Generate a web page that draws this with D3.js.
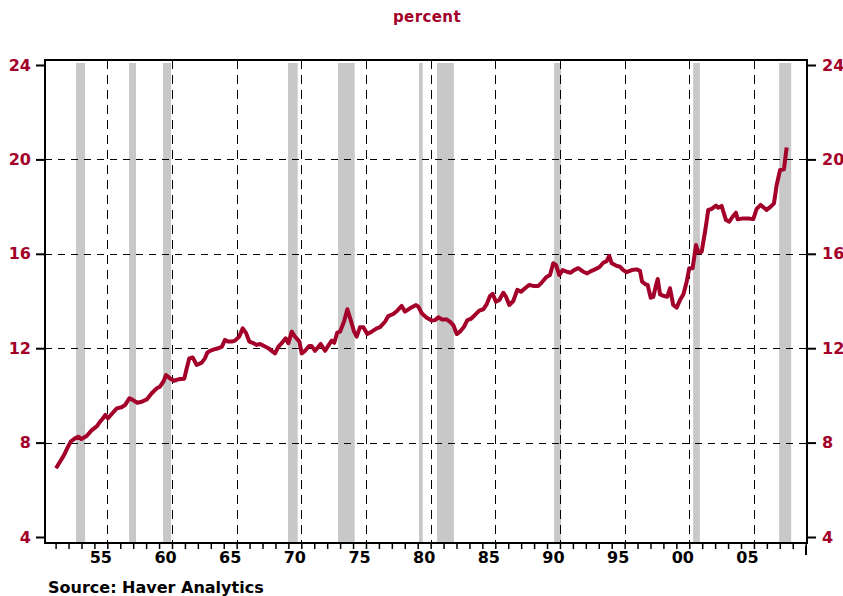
<!DOCTYPE html>
<html>
<head>
<meta charset="utf-8">
<script src="https://cdn.jsdelivr.net/npm/d3@7"></script>
<style>
  body { margin: 0; background: #fff; }
  svg text { font-family: 'DejaVu Sans', Verdana, sans-serif; font-weight: bold; }
</style>
</head>
<body>
<div id="divChart"></div>
<script>
// observation dates (decimal years) and values in percent
var obsYear = [
  1952.03, 1952.34, 1952.65, 1952.9, 1953.17, 1953.5, 1953.76, 1954.0, 1954.4, 1954.8,
  1955.2, 1955.44, 1955.62, 1955.85, 1956.05, 1956.34, 1956.73, 1957.1, 1957.37, 1957.7,
  1957.96, 1958.32, 1958.66, 1959.05, 1959.43, 1959.82, 1960.07, 1960.33, 1960.54, 1960.85,
  1961.16, 1961.49, 1961.95, 1962.14, 1962.34, 1962.6, 1962.91, 1963.3, 1963.55, 1963.73,
  1963.94, 1964.25, 1964.58, 1964.85, 1965.1, 1965.36, 1965.62, 1965.87, 1966.2, 1966.47,
  1966.72, 1966.98, 1967.24, 1967.55, 1967.81, 1968.12, 1968.45, 1968.71, 1968.97, 1969.22,
  1969.48, 1969.79, 1970.0, 1970.26, 1970.51, 1970.85, 1971.03, 1971.29, 1971.6, 1971.8,
  1972.06, 1972.32, 1972.5, 1972.83, 1973.09, 1973.35, 1973.55, 1973.78, 1973.99, 1974.3,
  1974.56, 1974.82, 1975.08, 1975.28, 1975.54, 1975.8, 1976.1, 1976.44, 1976.83, 1977.09,
  1977.47, 1977.73, 1978.11, 1978.42, 1978.76, 1979.02, 1979.4, 1979.87, 1980.05, 1980.31,
  1980.7, 1981.08, 1981.34, 1981.6, 1981.86, 1982.24, 1982.5, 1982.75, 1983.02, 1983.27,
  1983.58, 1983.84, 1984.1, 1984.43, 1984.76, 1985.07, 1985.34, 1985.59, 1985.8, 1986.05,
  1986.31, 1986.62, 1986.83, 1987.08, 1987.39, 1987.7, 1987.99, 1988.3, 1988.63, 1988.94,
  1989.33, 1989.59, 1989.92, 1990.23, 1990.48, 1990.69, 1990.95, 1991.21, 1991.52, 1991.83,
  1992.09, 1992.42, 1992.8, 1993.11, 1993.45, 1993.71, 1994.04, 1994.35, 1994.61, 1994.81,
  1995.0, 1995.33, 1995.64, 1995.9, 1996.16, 1996.55, 1996.93, 1997.19, 1997.35, 1997.6,
  1997.78, 1998.02, 1998.22, 1998.4, 1998.56, 1998.74, 1999.05, 1999.3, 1999.51, 1999.76,
  2000.03, 2000.28, 2000.54, 2000.8, 2001.0, 2001.26, 2001.52, 2001.7, 2001.96, 2002.22,
  2002.47, 2002.73, 2003.07, 2003.24, 2003.5, 2003.84, 2004.09, 2004.35, 2004.61, 2004.74,
  2005.18, 2005.56, 2005.95, 2006.21, 2006.52, 2006.78, 2006.98, 2007.3, 2007.55, 2007.76,
  2008.02, 2008.32, 2008.53
]
var obsValue = [
  6.91, 7.19, 7.47, 7.76, 8.04, 8.18, 8.25, 8.15, 8.28, 8.53,
  8.7, 8.89, 9.0, 9.17, 9.03, 9.21, 9.45, 9.5, 9.59, 9.88,
  9.81, 9.69, 9.73, 9.83, 10.09, 10.3, 10.37, 10.58, 10.86, 10.72,
  10.62, 10.68, 10.71, 11.15, 11.57, 11.61, 11.29, 11.39, 11.57, 11.81,
  11.89, 11.95, 12.0, 12.06, 12.35, 12.28, 12.28, 12.32, 12.49, 12.84,
  12.65, 12.28, 12.23, 12.14, 12.18, 12.09, 12.0, 11.89, 11.78, 12.06,
  12.21, 12.42, 12.21, 12.7, 12.49, 12.28, 11.78, 11.89, 12.09, 12.09,
  11.89, 12.06, 12.18, 11.89, 12.11, 12.32, 12.23, 12.66, 12.7, 13.12,
  13.65, 13.19, 12.7, 12.49, 12.89, 12.89, 12.6, 12.7, 12.84, 12.89,
  13.12, 13.36, 13.45, 13.59, 13.79, 13.55, 13.69, 13.83, 13.76, 13.48,
  13.29, 13.17, 13.19, 13.31, 13.22, 13.22, 13.12, 12.98, 12.6, 12.7,
  12.91, 13.19, 13.24, 13.41, 13.59, 13.65, 13.87, 14.21, 14.3, 13.97,
  14.04, 14.35, 14.18, 13.83, 14.0, 14.47, 14.39, 14.54, 14.68, 14.64,
  14.64, 14.78, 15.0, 15.1, 15.6, 15.53, 15.1, 15.31, 15.24, 15.2,
  15.31, 15.39, 15.24, 15.17, 15.28, 15.34, 15.43, 15.62, 15.69, 15.91,
  15.6, 15.5, 15.45, 15.31, 15.22, 15.31, 15.34, 15.28, 14.82, 14.71,
  14.68, 14.14, 14.18, 14.61, 14.93, 14.28, 14.21, 14.18, 14.54, 13.83,
  13.72, 14.04, 14.28, 14.82, 15.39, 15.39, 16.37, 16.06, 16.09, 16.94,
  17.86, 17.9, 18.04, 17.95, 18.03, 17.43, 17.36, 17.57, 17.74, 17.46,
  17.5, 17.5, 17.47, 17.9, 18.07, 17.95, 17.86, 18.0, 18.14, 18.92,
  19.55, 19.58, 20.5
]

// recession periods (decimal years)
var recessionStart = [1953.58, 1957.68, 1960.31, 1969.97, 1973.84, 1980.1, 1981.5, 1990.55, 2001.3, 2007.95]
var recessionEnd = [1954.28, 1958.22, 1960.93, 1970.72, 1975.13, 1980.39, 1982.8, 1991.09, 2001.82, 2008.88]

// axis ticks and labels
var yTicks = [4, 8, 12, 16, 20, 24]
var yGrid = [8, 12, 16, 20]
var xLabelYears = [1955, 1960, 1965, 1970, 1975, 1980, 1985, 1990, 1995, 2000, 2005]
var xLabels = ['55', '60', '65', '70', '75', '80', '85', '90', '95', '00', '05']
var xMinorYears = d3.range(1952, 2011)

var chart = {}

function initChart () {
  chart.width = 843
  chart.height = 596
  chart.red = '#a3002a'
  chart.frame = { left: 45, right: 807, top: 60, bottom: 543 }

  chart.xScale = d3.scaleLinear().domain([1951.18, 2010.08]).range([45, 806.7])
  chart.yScale = d3.scaleLinear().domain([4, 24]).range([537, 65])

  chart.svg = d3
    .select('#divChart')
    .append('svg')
    .attr('width', chart.width)
    .attr('height', chart.height)
}

function drawChart () {
  var svg = chart.svg
  var f = chart.frame
  var x = chart.xScale
  var y = chart.yScale

  // recession shading
  svg.append('g')
    .selectAll('rect')
    .data(recessionStart)
    .enter()
    .append('rect')
    .attr('x', function (d) { return x(d) })
    .attr('y', f.top + 3)
    .attr('width', function (d, i) { return x(recessionEnd[i]) - x(d) })
    .attr('height', f.bottom - f.top - 3)
    .attr('fill', '#c8c8c8')

  // dashed grid
  svg.append('g')
    .selectAll('line')
    .data(xLabelYears)
    .enter()
    .append('line')
    .attr('x1', function (d) { return Math.round(x(d + 1)) + 0.5 })
    .attr('x2', function (d) { return Math.round(x(d + 1)) + 0.5 })
    .attr('y1', f.top)
    .attr('y2', f.bottom)
    .attr('stroke', '#000')
    .attr('stroke-width', 1)
    .attr('stroke-dasharray', '9,6')
  svg.append('g')
    .selectAll('line')
    .data(yGrid)
    .enter()
    .append('line')
    .attr('x1', f.left)
    .attr('x2', f.right)
    .attr('y1', function (d) { return Math.round(y(d)) + 0.5 })
    .attr('y2', function (d) { return Math.round(y(d)) + 0.5 })
    .attr('stroke', '#000')
    .attr('stroke-width', 1)
    .attr('stroke-dasharray', '7,6')

  // the series
  var line = d3.line()
    .x(function (d, i) { return x(obsYear[i]) })
    .y(function (d) { return y(d) })
  svg.append('path')
    .datum(obsValue)
    .attr('d', line)
    .attr('fill', 'none')
    .attr('stroke', chart.red)
    .attr('stroke-width', 4)
    .attr('stroke-linejoin', 'round')
    .attr('stroke-linecap', 'butt')

  // frame
  svg.append('rect')
    .attr('x', f.left)
    .attr('y', f.top)
    .attr('width', f.right - f.left)
    .attr('height', f.bottom - f.top)
    .attr('fill', 'none')
    .attr('stroke', '#000')
    .attr('stroke-width', 2)

  // left and right axes
  var yAxisLeft = d3.axisLeft(y).tickValues(yTicks).tickSize(9).tickPadding(5)
  var yAxisRight = d3.axisRight(y).tickValues(yTicks).tickSize(9).tickPadding(6)
  var gL = svg.append('g')
    .attr('transform', 'translate(' + f.left + ',0)')
    .call(yAxisLeft)
  var gR = svg.append('g')
    .attr('transform', 'translate(' + f.right + ',0)')
    .call(yAxisRight)
  ;[gL, gR].forEach(function (g) {
    g.select('.domain').remove()
    g.selectAll('line').attr('stroke', '#000').attr('stroke-width', 2)
    g.selectAll('text')
      .attr('fill', chart.red)
      .style('font-size', '16px')
  })

  // bottom axis: yearly ticks, labels centred in the year
  var xAxis = d3.axisBottom(x).tickValues(xMinorYears).tickSize(5).tickFormat('')
  var gX = svg.append('g')
    .attr('transform', 'translate(0,' + (f.bottom + 1) + ')')
    .call(xAxis)
  gX.select('.domain').remove()
  gX.selectAll('line').attr('stroke', '#000').attr('stroke-width', 1.5)
  gX.append('line')
    .attr('x1', f.right - 1)
    .attr('x2', f.right - 1)
    .attr('y1', 2)
    .attr('y2', 11)
    .attr('stroke', '#000')
    .attr('stroke-width', 2)

  svg.append('g')
    .selectAll('text')
    .data(xLabelYears)
    .enter()
    .append('text')
    .attr('x', function (d) { return x(d + 0.5) })
    .attr('y', 563)
    .attr('text-anchor', 'middle')
    .attr('fill', '#000')
    .style('font-size', '16px')
    .text(function (d, i) { return xLabels[i] })

  // title and source
  svg.append('text')
    .attr('x', 427)
    .attr('y', 22)
    .attr('text-anchor', 'middle')
    .attr('fill', chart.red)
    .style('font-size', '15px')
    .style('letter-spacing', '0.4px')
    .text('percent')
  svg.append('text')
    .attr('x', 48)
    .attr('y', 593)
    .attr('fill', '#000')
    .style('font-size', '16px')
    .text('Source: Haver Analytics')
}

initChart()
drawChart()
</script>
</body>
</html>
